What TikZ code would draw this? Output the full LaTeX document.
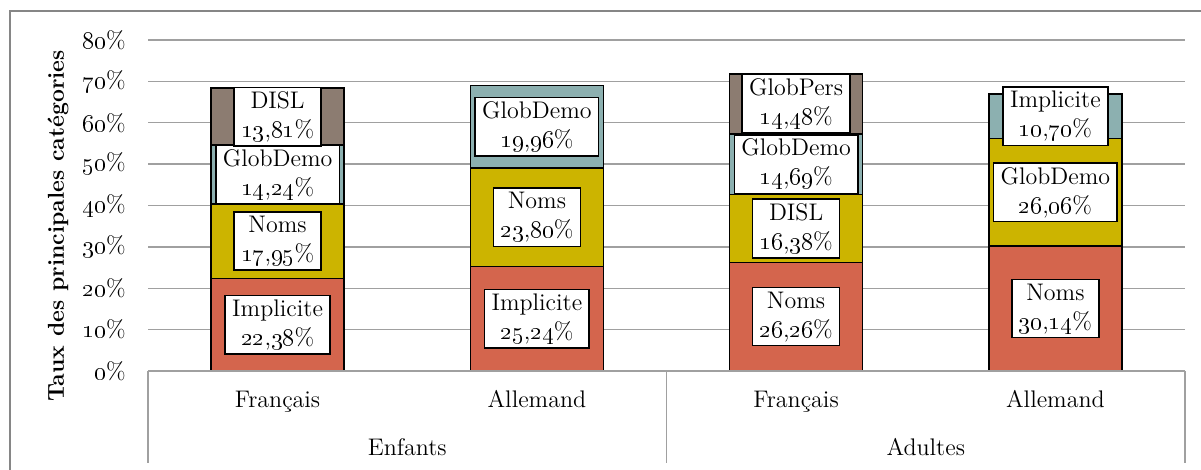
\documentclass[tikz,border=0pt]{standalone}
\usetikzlibrary{positioning}
\definecolor{BarRed}{RGB}{212,101,77}
\definecolor{BarYellow}{RGB}{204,180,0}
\definecolor{BarTeal}{RGB}{140,176,176}
\definecolor{BarBrown}{RGB}{140,124,113}
\definecolor{FrameGray}{RGB}{134,134,134}
\definecolor{GridGray}{RGB}{160,160,160}
\newcommand{\pval}[2]{\oldstylenums{#1},\oldstylenums{#2}\%}
\tikzset{
  frame/.style={draw=FrameGray,line width=1pt},
  grid/.style={draw=GridGray,line width=0.7pt},
  seg/.style={draw=black,line width=0.8pt},
  lbl/.style={draw=black,line width=0.8pt,fill=white,align=center,
    inner xsep=3.5pt,inner ysep=2pt,font=\fontsize{12}{14.5}\selectfont},
  ticklbl/.style={anchor=east,inner sep=0pt,font=\fontsize{12}{14.5}\selectfont},
  catlbl/.style={anchor=base,inner sep=0pt,font=\fontsize{12}{14.5}\selectfont}
}
\begin{document}
\begin{tikzpicture}[x=0.5pt,y=0.5pt]
  \useasboundingbox (0,0) rectangle (1201,470);
  % chart frame
  \draw[frame] (10,0) -- (10,459) -- (1201,459);

  \begin{scope}[shift={(148,99)},y=2.06875pt]
    % gridlines and ticks
    \foreach \v in {10,20,...,80}
      \draw[grid] (0,\v) -- (1037,\v);
    \foreach \v in {0,10,...,80}
      \node[ticklbl] (tick\v) at (-22,\v) {\oldstylenums{\v}\%};

    % Enfants - Francais
    \draw[seg,fill=BarRed] (63.1,0) rectangle (196.1,22.38);
    \draw[seg,fill=BarYellow] (63.1,22.38) rectangle (196.1,40.33);
    \draw[seg,fill=BarTeal] (63.1,40.33) rectangle (196.1,54.57);
    \draw[seg,fill=BarBrown] (63.1,54.57) rectangle (196.1,68.38);
    \node[lbl] (efA) at (129.6,11.19) {Implicite\\\pval{22}{38}};
    \node[lbl] (efB) at (129.6,31.355) {Noms\\\pval{17}{95}};
    \node[lbl] (efC) at (129.6,47.45) {GlobDemo\\\pval{14}{24}};
    \node[lbl] (efD) at (129.6,61.475) {DISL\\\pval{13}{81}};

    % Enfants - Allemand
    \draw[seg,fill=BarRed] (322.4,0) rectangle (455.4,25.24);
    \draw[seg,fill=BarYellow] (322.4,25.24) rectangle (455.4,49.04);
    \draw[seg,fill=BarTeal] (322.4,49.04) rectangle (455.4,69.00);
    \node[lbl] (eaA) at (388.9,12.62) {Implicite\\\pval{25}{24}};
    \node[lbl] (eaB) at (388.9,37.14) {Noms\\\pval{23}{80}};
    \node[lbl] (eaC) at (388.9,59.02) {GlobDemo\\\pval{19}{96}};

    % Adultes - Francais
    \draw[seg,fill=BarRed] (581.6,0) rectangle (714.6,26.26);
    \draw[seg,fill=BarYellow] (581.6,26.26) rectangle (714.6,42.64);
    \draw[seg,fill=BarTeal] (581.6,42.64) rectangle (714.6,57.33);
    \draw[seg,fill=BarBrown] (581.6,57.33) rectangle (714.6,71.81);
    \node[lbl] (afA) at (648.1,13.13) {Noms\\\pval{26}{26}};
    \node[lbl] (afB) at (648.1,34.45) {DISL\\\pval{16}{38}};
    \node[lbl] (afC) at (648.1,49.985) {GlobDemo\\\pval{14}{69}};
    \node[lbl] (afD) at (648.1,64.57) {GlobPers\\\pval{14}{48}};

    % Adultes - Allemand
    \draw[seg,fill=BarRed] (840.9,0) rectangle (973.9,30.14);
    \draw[seg,fill=BarYellow] (840.9,30.14) rectangle (973.9,56.20);
    \draw[seg,fill=BarTeal] (840.9,56.20) rectangle (973.9,66.90);
    \node[lbl] (aaA) at (907.4,15.07) {Noms\\\pval{30}{14}};
    \node[lbl] (aaB) at (907.4,43.17) {GlobDemo\\\pval{26}{06}};
    \node[lbl] (aaC) at (907.4,61.55) {Implicite\\\pval{10}{70}};
  \end{scope}

  % category axis
  \draw[grid] (148,99) -- (1185,99);
  \draw[grid] (148,99) -- (148,7);
  \draw[grid] (666.5,99) -- (666.5,7);
  \draw[grid] (1185,99) -- (1185,7);
  \node[catlbl] (catEF) at (277.6,62) {Français};
  \node[catlbl] (catEA) at (536.9,62) {Allemand};
  \node[catlbl] (catAF) at (796.1,62) {Français};
  \node[catlbl] (catAA) at (1055.4,62) {Allemand};
  \node[catlbl] (grpE) at (407.3,14) {Enfants};
  \node[catlbl] (grpA) at (925.8,14) {Adultes};

  % value axis title
  \node[rotate=90,font=\fontsize{11.5}{14}\selectfont\bfseries] (ytitle) at (58,244)
    {Taux des principales catégories};
\end{tikzpicture}
\end{document}
